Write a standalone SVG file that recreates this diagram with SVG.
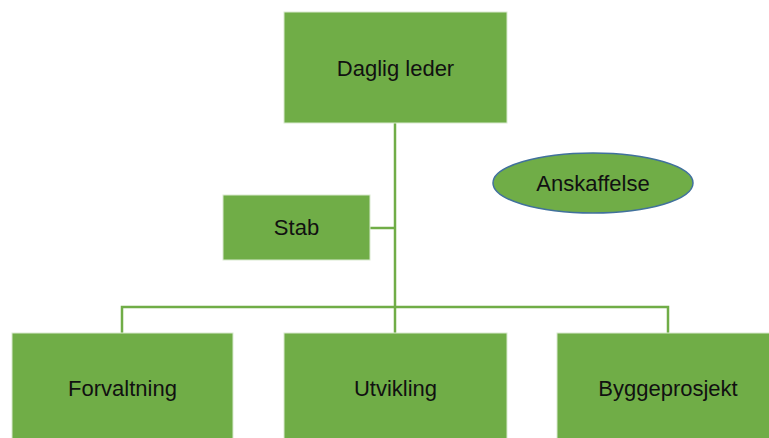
<svg xmlns="http://www.w3.org/2000/svg" width="769" height="438" viewBox="0 0 769 438">
<style>
.box{fill:#70AD47;stroke:#D9EAD0;stroke-width:1}
.ell{fill:#70AD47;stroke:#41719C;stroke-width:1.5}
.lbl{font-family:"Liberation Sans",Arial,sans-serif;font-size:22px;fill:#111;text-anchor:middle;dominant-baseline:central}
.con{fill:none;stroke:#70AD47;stroke-width:2.5}
</style>
<rect width="769" height="438" fill="#fff"/>
<g id="connectors">
<line class="con" x1="395" y1="123" x2="395" y2="333"/>
<line class="con" x1="370" y1="228" x2="395" y2="228"/>
<polyline class="con" points="122,333 122,307 668,307 668,333"/>
</g>
<g id="daglig-leder"><rect class="box" x="284" y="12" width="223" height="111"/><text class="lbl" x="395.5" y="68">Daglig leder</text></g>
<g id="stab"><rect class="box" x="223" y="195" width="147" height="65"/><text class="lbl" x="296.5" y="227">Stab</text></g>
<g id="anskaffelse"><ellipse class="ell" cx="593" cy="183" rx="100" ry="30"/><text class="lbl" x="593" y="183">Anskaffelse</text></g>
<g id="forvaltning"><rect class="box" x="12" y="333" width="221" height="110"/><text class="lbl" x="122.5" y="388">Forvaltning</text></g>
<g id="utvikling"><rect class="box" x="284" y="333" width="223" height="110"/><text class="lbl" x="395.5" y="388">Utvikling</text></g>
<g id="byggeprosjekt"><rect class="box" x="557" y="333" width="223" height="110"/><text class="lbl" x="668" y="388">Byggeprosjekt</text></g>
</svg>
